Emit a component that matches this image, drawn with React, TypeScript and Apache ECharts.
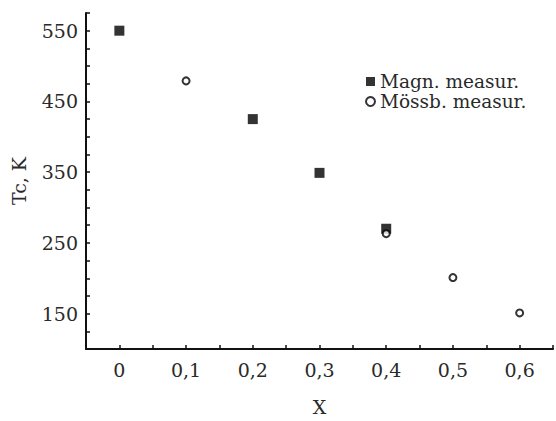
import React, { useEffect, useRef } from "react";
import * as echarts from "echarts";

const magnX = [0, 0.2, 0.3, 0.4];
const magnTc = [550, 425, 349, 270];
const mossX = [0.1, 0.4, 0.5, 0.6];
const mossTc = [479, 263, 201, 151];
const seriesNames = ["Magn. measur.", "Mössb. measur."];
const xAxisTitle = "X";
const yAxisTitle = "Tc, K";

const FONT = "DejaVu Serif";

export default function App() {
  const ref = useRef<HTMLDivElement>(null);
  useEffect(() => {
    const chart = echarts.init(ref.current!, null, { renderer: "svg" });
    chart.setOption({
      animation: false,
      backgroundColor: "#fff",
      grid: { left: 86, right: 1, top: 13, bottom: 72, containLabel: false },
      legend: {
        orient: "vertical",
        left: 360,
        top: 67,
        itemGap: 1,
        itemWidth: 9,
        itemHeight: 9,
        textStyle: { fontFamily: FONT, fontSize: 18.5, color: "#2a2a2a" },
        data: [
          { name: seriesNames[0], icon: "rect" },
          { name: seriesNames[1], icon: "emptyCircle" },
        ],
      },
      xAxis: {
        type: "value",
        min: -0.05,
        max: 0.65,
        interval: 0.05,
        name: xAxisTitle,
        nameLocation: "middle",
        nameGap: 48,
        nameTextStyle: { fontFamily: FONT, fontSize: 19, color: "#2a2a2a" },
        axisLine: { lineStyle: { color: "#111", width: 2 } },
        axisTick: { inside: true, length: 4, lineStyle: { color: "#111", width: 1.5 } },
        splitLine: { show: false },
        axisLabel: {
          margin: 11,
          fontFamily: FONT,
          fontSize: 19,
          color: "#2a2a2a",
          showMinLabel: true,
          showMaxLabel: true,
          formatter: (v: number) => {
            const k = Math.round(v * 100);
            if (k < 0 || k % 10 !== 0) return "";
            if (k === 0) return "0";
            return (k / 100).toFixed(1).replace(".", ",");
          },
        },
      },
      yAxis: {
        type: "value",
        min: 100,
        max: 575,
        interval: 25,
        name: yAxisTitle,
        nameLocation: "middle",
        nameGap: 58,
        nameTextStyle: { fontFamily: FONT, fontSize: 19, color: "#2a2a2a" },
        axisLine: { onZero: false, lineStyle: { color: "#111", width: 2 } },
        axisTick: { inside: true, length: 4, lineStyle: { color: "#111", width: 1.5 } },
        splitLine: { show: false },
        axisLabel: {
          margin: 8,
          fontFamily: FONT,
          fontSize: 19,
          color: "#2a2a2a",
          formatter: (v: number) => ((v - 150) % 100 === 0 ? String(v) : ""),
        },
      },
      series: [
        {
          name: seriesNames[0],
          type: "scatter",
          symbol: "rect",
          symbolSize: 10,
          itemStyle: { color: "#000" },
          data: magnX.map((x, i) => [x, magnTc[i]]),
          z: 2,
        },
        {
          name: seriesNames[1],
          type: "scatter",
          symbol: "emptyCircle",
          symbolSize: 7,
          itemStyle: { color: "#000", borderColor: "#222", borderWidth: 1.2 },
          data: mossX.map((x, i) => [x, mossTc[i]]),
          z: 3,
        },
      ],
    });
    return () => chart.dispose();
  }, []);
  return <div ref={ref} style={{ width: 556, height: 421, position: "absolute", left: 0, top: 0 }} />;
}
